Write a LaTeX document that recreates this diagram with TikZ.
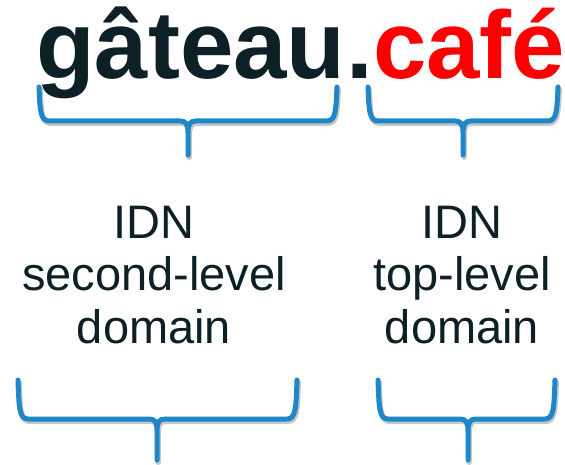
\documentclass[tikz,border=0pt]{standalone}
\usepackage{fontspec}
\setmainfont{Liberation Sans}
\definecolor{darktext}{HTML}{0D2026}
\definecolor{braceblue}{HTML}{1E87C8}
\definecolor{cafered}{HTML}{FF0000}
\newcommand\bracepath[6]{% L R C top ybar tip
  (#1,#4) .. controls (#1+1,#5-12) and (#1+1,#5) .. (#1+10,#5) -- (#3-8,#5)
  .. controls (#3-2,#5) and (#3,#5+3) .. (#3,#5+12) -- (#3,#6)
  (#2,#4) .. controls (#2-1,#5-12) and (#2-1,#5) .. (#2-10,#5) -- (#3+8,#5)
  .. controls (#3+2,#5) and (#3,#5+3) .. (#3,#5+12)
}
\newcommand\curlybrace[6]{%
  \draw[braceshadow] [shift={(1.2,2.2)}] \bracepath{#1}{#2}{#3}{#4}{#5}{#6};
  \draw[bracestroke] \bracepath{#1}{#2}{#3}{#4}{#5}{#6};
}
\tikzset{
  bigword/.style={inner sep=0pt, anchor=base west, font=\bfseries\fontsize{96}{96}\selectfont},
  label/.style={inner sep=0pt, align=center, text=darktext, font=\fontsize{47}{52.5}\selectfont},
  bracestroke/.style={draw=braceblue, line width=5pt, line cap=round, line join=round},
  braceshadow/.style={draw=black, opacity=0.22, line width=5.5pt, line cap=round, line join=round},
}
\begin{document}
\begin{tikzpicture}[x=1pt, y=-1pt]
\useasboundingbox[fill=white] (0,0) rectangle (565,465);
% braces
\curlybrace{39}{337}{188}{87}{121}{155}
\curlybrace{368}{558}{463}{87}{121}{155}
\curlybrace{18}{297}{157}{380}{419}{460}
\curlybrace{378}{555}{468}{380}{419}{460}
% domain name
\node[bigword, text=darktext] (gateau) at (36,79) {gâteau};
\node[bigword, text=darktext] (dot) at (gateau.base east) {.};
\node[bigword, text=cafered] (cafe) at (dot.base east) {café};
% labels
\node[label, anchor=base] (sld) at (154,343) {IDN\\second-level\\domain};
\node[label, anchor=base] (tld) at (462,343) {IDN\\top-level\\domain};
\end{tikzpicture}
\end{document}
